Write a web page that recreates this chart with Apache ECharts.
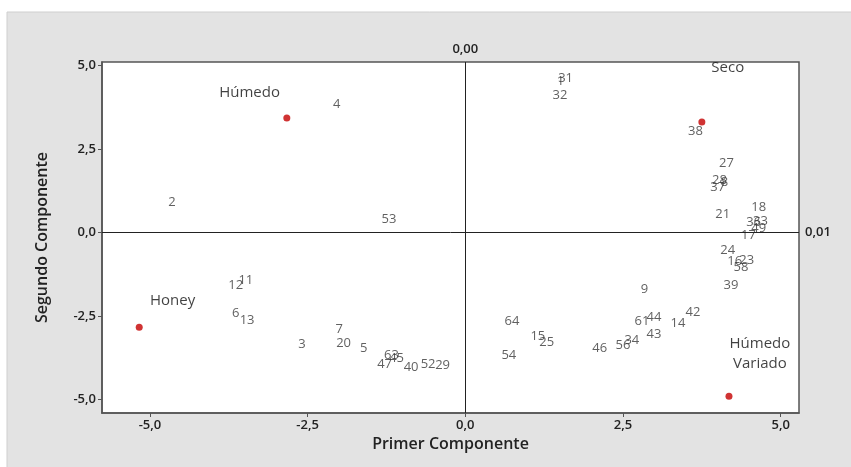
<!DOCTYPE html>
<html>
<head>
<meta charset="utf-8">
<title>Componentes</title>
<script src="https://cdn.jsdelivr.net/npm/echarts@6/dist/echarts.min.js"></script>
<style>
html, body { margin:0; padding:0; background:#fff; }
#main { width:851px; height:467px; }
</style>
</head>
<body>
<div id="main"></div>
<script>
// muestras (etiqueta, primer componente, segundo componente)
var pointIds = ['2','4','53','11','12','6','13','3','7','20','5','63','45','47','40','52','29',
                '64','54','15','25','46','56','34','43','61','44','14','42','9','39','58','16','23',
                '24','17','49','36','33','18','21','27','28','8','37','38','32','31','1'];
var pointX = [-4.65,-2.04,-1.21,-3.48,-3.64,-3.64,-3.46,-2.59,-2.00,-1.93,-1.61,-1.17,-1.09,-1.28,-0.86,-0.59,-0.36,
              0.74,0.69,1.15,1.29,2.13,2.50,2.64,2.99,2.80,2.99,3.37,3.61,2.84,4.21,4.37,4.27,4.46,
              4.16,4.49,4.65,4.57,4.68,4.65,4.08,4.14,4.03,4.11,4.00,3.65,1.50,1.59,1.51];
var pointY = [0.91,3.85,0.40,-1.43,-1.58,-2.42,-2.63,-3.35,-2.90,-3.32,-3.47,-3.68,-3.77,-3.95,-4.04,-3.95,-3.98,
              -2.66,-3.68,-3.11,-3.29,-3.47,-3.38,-3.23,-3.05,-2.66,-2.54,-2.72,-2.39,-1.70,-1.58,-1.04,-0.86,-0.83,
              -0.53,-0.08,0.13,0.31,0.34,0.76,0.55,2.08,1.57,1.51,1.36,3.04,4.12,4.63,4.54];

// centroides de los grupos
var groupNames = ['Húmedo','Seco','Honey','Húmedo\nVariado'];
var groupX = [-2.83, 3.75, -5.17, 4.18];
var groupY = [3.43, 3.31, -2.84, -4.91];
// donde va el texto de cada grupo
var groupLabelX = [-3.42, 4.16, -4.64, 4.67];
var groupLabelY = [4.18, 4.93, -2.06, -3.62];

var tickValues = [-5, -2.5, 0, 2.5, 5];

function fmt(v) { return v.toFixed(1).replace('.', ','); }

var points = [];
for (var i = 0; i < pointIds.length; i++) {
    points.push({ name: pointIds[i], value: [pointX[i], pointY[i]] });
}
var centroids = [];
var groupLabels = [];
for (var j = 0; j < groupNames.length; j++) {
    centroids.push({ name: groupNames[j], value: [groupX[j], groupY[j]] });
    groupLabels.push({ name: groupNames[j], value: [groupLabelX[j], groupLabelY[j]] });
}

var myChart = echarts.init(document.getElementById('main'));
var font = 'Open Sans';

var option = {
    backgroundColor: '#fff',
    animation: false,
    graphic: [{
        type: 'rect', z: -10,
        shape: { x: 7, y: 12, width: 850, height: 460 },
        style: { fill: '#e3e3e3', stroke: '#cfcfcf', lineWidth: 1 }
    }],
    grid: {
        left: 102, top: 62, right: 52, bottom: 54,
        show: true, backgroundColor: '#fff', borderColor: '#555', borderWidth: 1.5
    },
    xAxis: {
        type: 'value', min: -5.76, max: 5.29,
        name: 'Primer Componente', nameLocation: 'middle', nameGap: 21,
        nameTextStyle: { fontFamily: font, fontSize: 16, fontWeight: 600, color: '#222' },
        axisLine: { show: true, onZero: false, lineStyle: { color: '#555', width: 1.5 } },
        axisTick: { show: true, length: 4, customValues: tickValues, lineStyle: { color: '#555' } },
        axisLabel: { customValues: tickValues, formatter: fmt, margin: 6,
                     fontFamily: font, fontSize: 13, fontWeight: 600, color: '#222' },
        splitLine: { show: false }
    },
    yAxis: {
        type: 'value', min: -5.41, max: 5.11,
        name: 'Segundo Componente', nameLocation: 'middle', nameGap: 52,
        nameTextStyle: { fontFamily: font, fontSize: 16, fontWeight: 600, color: '#222' },
        axisLine: { show: true, onZero: false, lineStyle: { color: '#555', width: 1.5 } },
        axisTick: { show: true, length: 4, customValues: tickValues, lineStyle: { color: '#555' } },
        axisLabel: { customValues: tickValues, formatter: fmt, margin: 6,
                     fontFamily: font, fontSize: 13, fontWeight: 600, color: '#222' },
        splitLine: { show: false }
    },
    series: [
        {
            type: 'scatter', name: 'muestras', data: points,
            symbolSize: 1, itemStyle: { color: 'rgba(0,0,0,0)' },
            label: { show: true, position: 'inside', formatter: '{b}',
                     fontFamily: font, fontSize: 13, color: '#383838' },
            markLine: {
                silent: true, symbol: 'none',
                lineStyle: { color: '#222', width: 1, type: 'solid' },
                label: { position: 'end', fontFamily: font, fontSize: 13, fontWeight: 600, color: '#222' },
                data: [
                    { xAxis: 0, label: { formatter: '0,00', distance: 6 } },
                    { yAxis: 0, label: { formatter: '0,01', distance: 6 } }
                ]
            }
        },
        {
            type: 'scatter', name: 'centroides', data: centroids,
            symbolSize: 7, itemStyle: { color: '#c40000' }
        },
        {
            type: 'scatter', name: 'grupos', data: groupLabels,
            symbolSize: 1, itemStyle: { color: 'rgba(0,0,0,0)' },
            label: { show: true, position: 'inside', formatter: '{b}', lineHeight: 20,
                     fontFamily: font, fontSize: 15, color: '#111' }
        }
    ]
};

myChart.setOption(option);
</script>
</body>
</html>
